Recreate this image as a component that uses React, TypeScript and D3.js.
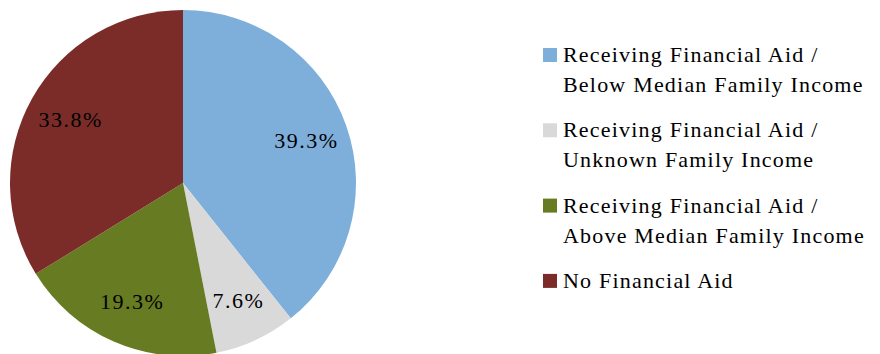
import React from "react";
import * as d3 from "d3";

const categories = [
  "Receiving Financial Aid / Below Median Family Income",
  "Receiving Financial Aid / Unknown Family Income",
  "Receiving Financial Aid / Above Median Family Income",
  "No Financial Aid",
];
const legendLines = [
  ["Receiving Financial Aid /", "Below Median Family Income"],
  ["Receiving Financial Aid /", "Unknown Family Income"],
  ["Receiving Financial Aid /", "Above Median Family Income"],
  ["No Financial Aid"],
];
const values = [39.3, 7.6, 19.3, 33.8];
const colors = ["#7EAFDA", "#D9D9D9", "#677B22", "#7B2C28"];

const W = 880;
const H = 354;
const FONT = '"Liberation Serif", serif';
const FONT_SIZE = 22;

export default function App() {
  const cx = 183;
  const cy = 183;
  const r = 173;
  const pie = d3.pie<number>().sort(null).value((d) => d);
  const arcs = pie(values);
  const arc = d3.arc<d3.PieArcDatum<number>>().innerRadius(0).outerRadius(r);
  const labelArc = d3
    .arc<d3.PieArcDatum<number>>()
    .innerRadius(r * 0.75)
    .outerRadius(r * 0.75);

  const legendX = 543;
  const legendY0 = 62;
  const itemStep = 75.3;
  const lineStep = 30;

  return (
    <svg
      width={W}
      height={H}
      style={{ position: "absolute", left: 0, top: 0, background: "#fff" }}
    >
      <g transform={`translate(${cx},${cy})`}>
        {arcs.map((a, i) => (
          <path key={categories[i]} d={arc(a) || ""} fill={colors[i]} />
        ))}
        {arcs.map((a, i) => {
          const [x, y] = labelArc.centroid(a);
          return (
            <text
              key={"l" + i}
              x={x + 1}
              y={y}
              textAnchor="middle"
              dominantBaseline="central"
              style={{ fontFamily: FONT, fontSize: `${FONT_SIZE}px`, letterSpacing: "1.5px" }}
              fill="#000"
            >
              {values[i].toFixed(1) + "%"}
            </text>
          );
        })}
      </g>
      {legendLines.map((lines, i) => {
        const base = legendY0 + i * itemStep;
        return (
          <g key={"lg" + i}>
            <rect x={legendX} y={base - 14} width={14} height={14} fill={colors[i]} />
            {lines.map((t, j) => (
              <text
                key={j}
                x={legendX + 20}
                y={base + j * lineStep}
                style={{ fontFamily: FONT, fontSize: `${FONT_SIZE}px`, letterSpacing: "1.2px" }}
                fill="#000"
              >
                {t}
              </text>
            ))}
          </g>
        );
      })}
    </svg>
  );
}
